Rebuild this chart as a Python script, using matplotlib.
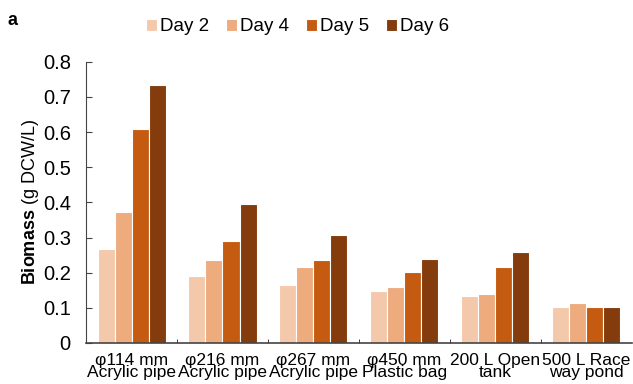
import numpy as np
import matplotlib
matplotlib.use('Agg')
import matplotlib.pyplot as plt

# Data
groups = ['\u03c6114 mm\nAcrylic pipe', '\u03c6216 mm\nAcrylic pipe', '\u03c6267 mm\nAcrylic pipe',
          '\u03c6450 mm\nPlastic bag', '200 L Open\ntank', '500 L Race\nway pond']
days = ['Day 2', 'Day 4', 'Day 5', 'Day 6']
day2 = [0.268, 0.190, 0.164, 0.149, 0.134, 0.103]
day4 = [0.373, 0.237, 0.217, 0.160, 0.140, 0.113]
day5 = [0.609, 0.290, 0.237, 0.202, 0.217, 0.103]
day6 = [0.734, 0.394, 0.307, 0.238, 0.259, 0.103]
colors = ['#F4C8AA', '#EDAB7E', '#C55A11', '#843C0C']

plt.rcParams['font.family'] = ['Liberation Sans', 'DejaVu Sans']
plt.rcParams['mathtext.fontset'] = 'custom'
plt.rcParams['mathtext.rm'] = 'Liberation Sans'
plt.rcParams['mathtext.bf'] = 'Liberation Sans:bold'

fig = plt.figure(figsize=(6.33, 3.84), dpi=100)
ax = fig.add_axes([0.136, 0.107, 0.862, 0.732])

x = np.arange(len(groups))
w = 0.187
series = [day2, day4, day5, day6]
for i, vals in enumerate(series):
    ax.bar(x + (i - 1.5) * w, vals, w, color=colors[i], edgecolor='white',
           linewidth=0.8, label=days[i])

ax.set_xlim(-0.5, len(groups) - 0.5)
ax.set_ylim(0, 0.8)
ax.set_yticks(np.arange(0, 0.81, 0.1))
ax.set_yticklabels(['0'] + ['%.1f' % v for v in np.arange(0.1, 0.81, 0.1)])
ax.set_xticks(x)
ax.set_xticklabels(groups, fontsize=12.5, linespacing=0.82)
ax.set_xticks(np.arange(0.5, len(groups) - 0.5, 1), minor=True)
ax.tick_params(axis='x', which='major', length=0, pad=7)
ax.tick_params(axis='x', which='minor', direction='in', length=3, color='#222222')
ax.tick_params(axis='y', direction='in', length=4, labelsize=14.5, pad=11, color='#444444')

for s in ['top', 'right']:
    ax.spines[s].set_visible(False)
ax.spines['left'].set_color('#444444')
ax.spines['bottom'].set_color('#444444')
ax.spines['bottom'].set_linewidth(1.2)

ax.set_ylabel(r'$\mathbf{Biomass}$ (g DCW/L)', fontsize=13, labelpad=1)

fig.text(0.012, 0.935, 'a', fontsize=13, fontweight='bold')
fig.legend(loc='center', bbox_to_anchor=(0.47, 0.93), ncol=4, frameon=False,
           fontsize=13.5, handlelength=0.6, handleheight=0.6, handletextpad=0.15,
           columnspacing=0.9)

fig.savefig('out.png', dpi=100)
